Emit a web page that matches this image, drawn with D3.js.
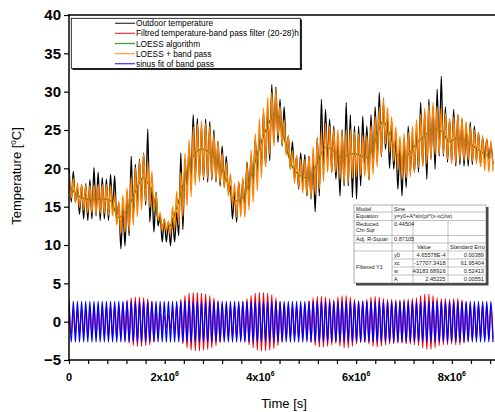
<!DOCTYPE html>
<html>
<head>
<meta charset="utf-8">
<script src="https://cdn.jsdelivr.net/npm/d3@7"></script>
<style>
body { margin: 0; background: #fff; }
svg { display: block; font-family: "Liberation Sans", Arial, sans-serif; }
</style>
</head>
<body>
<div id="chart"></div>
<script>
// one value pair per day: daily maximum and daily minimum
var outdoorMax = [
  19.9, 19.6, 17.5, 17.9, 18.0, 18.5, 20.1, 19.5, 18.8, 18.6,
  19.2, 19.0, 15.5, 15.0, 16.9, 21.6, 20.5, 21.2, 22.0, 25.1,
  17.5, 16.9, 14.0, 13.4, 13.0, 13.5, 14.3, 22.0, 21.0, 22.5,
  27.0, 26.5, 25.5, 26.4, 26.1, 25.0, 23.5, 22.9, 21.6, 17.7,
  16.9, 18.2, 18.5, 20.8, 21.5, 23.8, 24.5, 27.3, 27.8, 30.9,
  30.6, 29.0, 28.0, 24.2, 23.5, 21.6, 22.0, 21.8, 21.6, 21.2,
  24.0, 29.0, 27.7, 26.4, 25.5, 23.4, 25.0, 28.6, 27.0, 25.5,
  25.5, 26.8, 25.5, 27.0, 28.0, 29.9, 28.6, 26.4, 26.0, 23.8,
  23.0, 23.8, 25.5, 24.0, 25.0, 28.6, 27.3, 29.0, 28.0, 30.3,
  32.0, 28.0, 26.4, 27.7, 27.0, 26.4, 25.5, 26.0, 25.5, 24.7,
  24.0, 23.8, 23.0
];
var outdoorMin = [
  15.6, 15.6, 14.0, 13.4, 13.2, 13.4, 13.8, 13.2, 13.4, 13.2,
  14.5, 13.0, 9.5, 9.9, 11.2, 13.5, 15.1, 15.5, 15.2, 13.0,
  11.7, 12.5, 10.4, 10.4, 9.9, 10.4, 11.2, 12.0, 17.7, 18.6,
  18.6, 18.6, 18.5, 18.2, 18.5, 18.2, 17.7, 17.7, 16.9, 13.4,
  13.0, 14.7, 15.0, 16.9, 18.0, 19.5, 20.0, 20.3, 21.0, 23.4,
  23.4, 22.9, 22.0, 19.9, 18.6, 17.3, 17.7, 16.4, 16.0, 14.3,
  16.4, 20.5, 20.8, 19.5, 18.6, 16.4, 17.7, 17.7, 16.2, 16.0,
  17.7, 19.9, 18.5, 20.0, 20.8, 21.5, 22.5, 20.0, 19.9, 17.3,
  16.4, 17.5, 19.5, 19.5, 19.5, 20.3, 18.6, 21.2, 19.9, 21.6,
  21.6, 20.8, 20.8, 20.3, 20.5, 20.3, 20.3, 20.5, 21.0, 20.5,
  21.2, 21.2, 20.5
];
var bandMax = [
  1.6, 1.6, 1.6, 1.7, 1.8, 1.8, 1.9, 1.9, 1.9, 2.0,
  2.0, 2.1, 2.1, 2.4, 2.8, 3.1, 3.2, 3.2, 3.1, 3.0,
  2.6, 1.8, 1.2, 0.8, 0.9, 1.5, 2.2, 2.9, 3.4, 3.7,
  3.8, 3.8, 3.7, 3.6, 3.4, 3.1, 2.7, 2.3, 2.2, 2.1,
  2.2, 2.3, 2.6, 3.0, 3.4, 3.7, 3.8, 3.8, 3.7, 3.5,
  3.1, 2.6, 2.3, 2.2, 2.1, 2.1, 2.2, 2.3, 2.7, 3.1,
  3.3, 3.3, 3.2, 3.0, 2.8, 3.2, 3.4, 3.4, 3.2, 2.9,
  2.7, 2.7, 2.9, 3.2, 3.3, 3.2, 3.0, 2.9, 2.9, 2.8,
  2.8, 2.9, 2.9, 3.0, 3.1, 3.4, 3.6, 3.6, 3.4, 3.1,
  3.0, 3.0, 2.9, 3.0, 3.0, 2.8, 2.5, 2.3, 2.2, 2.2,
  2.3, 2.2, 2.2
];
var bandMin = [
  -1.6, -1.6, -1.6, -1.7, -1.8, -1.8, -1.9, -1.9, -1.9, -2.0,
  -2.0, -2.1, -2.1, -2.4, -2.8, -3.1, -3.2, -3.2, -3.1, -3.0,
  -2.6, -1.8, -1.2, -0.8, -0.9, -1.5, -2.2, -2.9, -3.4, -3.7,
  -3.8, -3.8, -3.7, -3.6, -3.4, -3.1, -2.7, -2.3, -2.2, -2.1,
  -2.2, -2.3, -2.6, -3.0, -3.4, -3.7, -3.8, -3.8, -3.7, -3.5,
  -3.1, -2.6, -2.3, -2.2, -2.1, -2.1, -2.2, -2.3, -2.7, -3.1,
  -3.3, -3.3, -3.2, -3.0, -2.8, -3.2, -3.4, -3.4, -3.2, -2.9,
  -2.7, -2.7, -2.9, -3.2, -3.3, -3.2, -3.0, -2.9, -2.9, -2.8,
  -2.8, -2.9, -2.9, -3.0, -3.1, -3.4, -3.6, -3.6, -3.4, -3.1,
  -3.0, -3.0, -2.9, -3.0, -3.0, -2.8, -2.5, -2.3, -2.2, -2.2,
  -2.3, -2.2, -2.2
];
var loessBandMax = [
  19.3, 18.7, 18.1, 17.9, 17.8, 17.8, 17.8, 17.9, 17.9, 17.9,
  17.8, 16.8, 15.7, 16.5, 17.4, 18.8, 20.1, 21.0, 21.9, 20.9,
  19.6, 16.8, 14.2, 13.4, 13.1, 15.0, 17.0, 19.5, 21.9, 23.7,
  25.4, 25.8, 26.2, 25.9, 25.5, 24.5, 23.5, 22.0, 20.8, 19.3,
  18.0, 18.3, 18.8, 20.6, 22.4, 24.5, 26.4, 27.8, 29.2, 29.9,
  30.4, 28.2, 26.3, 24.3, 22.3, 21.7, 21.2, 21.2, 21.5, 22.8,
  23.9, 24.9, 25.9, 25.5, 25.1, 25.0, 24.8, 25.0, 25.1, 24.7,
  24.5, 24.3, 24.3, 25.6, 26.8, 28.0, 29.2, 27.9, 26.7, 25.4,
  24.2, 24.5, 24.7, 25.5, 26.3, 27.1, 27.8, 28.3, 28.6, 28.1,
  27.9, 27.2, 26.4, 26.7, 27.0, 26.6, 26.1, 25.5, 25.0, 24.6,
  24.3, 23.9, 23.6
];
var loessBandMin = [
  16.1, 15.5, 14.9, 14.5, 14.2, 14.2, 14.0, 14.1, 14.1, 13.9,
  13.8, 12.6, 11.5, 11.7, 11.8, 12.6, 13.7, 14.6, 15.7, 14.9,
  14.4, 13.2, 11.8, 11.8, 11.3, 12.0, 12.6, 13.7, 15.1, 16.3,
  17.8, 18.2, 18.8, 18.7, 18.7, 18.3, 18.1, 17.4, 16.4, 15.1,
  13.6, 13.7, 13.6, 14.6, 15.6, 17.1, 18.8, 20.2, 21.8, 22.9,
  24.2, 23.0, 21.7, 19.9, 18.1, 17.5, 16.8, 16.6, 16.1, 16.6,
  17.3, 18.3, 19.5, 19.5, 19.5, 18.6, 18.0, 18.2, 18.7, 18.9,
  19.1, 18.9, 18.5, 19.2, 20.2, 21.6, 23.2, 22.1, 20.9, 19.8,
  18.6, 18.7, 18.9, 19.5, 20.1, 20.3, 20.6, 21.1, 21.8, 21.9,
  21.9, 21.2, 20.6, 20.7, 21.0, 21.0, 21.1, 20.9, 20.6, 20.2,
  19.7, 19.5, 19.6
];
var sineMax = [
  2.65, 2.65, 2.65, 2.65, 2.65, 2.65, 2.65, 2.65, 2.65, 2.65,
  2.65, 2.65, 2.65, 2.65, 2.65, 2.65, 2.65, 2.65, 2.65, 2.65,
  2.65, 2.65, 2.65, 2.65, 2.65, 2.65, 2.65, 2.65, 2.65, 2.65,
  2.65, 2.65, 2.65, 2.65, 2.65, 2.65, 2.65, 2.65, 2.65, 2.65,
  2.65, 2.65, 2.65, 2.65, 2.65, 2.65, 2.65, 2.65, 2.65, 2.65,
  2.65, 2.65, 2.65, 2.65, 2.65, 2.65, 2.65, 2.65, 2.65, 2.65,
  2.65, 2.65, 2.65, 2.65, 2.65, 2.65, 2.65, 2.65, 2.65, 2.65,
  2.65, 2.65, 2.65, 2.65, 2.65, 2.65, 2.65, 2.65, 2.65, 2.65,
  2.65, 2.65, 2.65, 2.65, 2.65, 2.65, 2.65, 2.65, 2.65, 2.65,
  2.65, 2.65, 2.65, 2.65, 2.65, 2.65, 2.65, 2.65, 2.65, 2.65,
  2.65, 2.65, 2.65
];
var sineMin = [
  -2.65, -2.65, -2.65, -2.65, -2.65, -2.65, -2.65, -2.65, -2.65, -2.65,
  -2.65, -2.65, -2.65, -2.65, -2.65, -2.65, -2.65, -2.65, -2.65, -2.65,
  -2.65, -2.65, -2.65, -2.65, -2.65, -2.65, -2.65, -2.65, -2.65, -2.65,
  -2.65, -2.65, -2.65, -2.65, -2.65, -2.65, -2.65, -2.65, -2.65, -2.65,
  -2.65, -2.65, -2.65, -2.65, -2.65, -2.65, -2.65, -2.65, -2.65, -2.65,
  -2.65, -2.65, -2.65, -2.65, -2.65, -2.65, -2.65, -2.65, -2.65, -2.65,
  -2.65, -2.65, -2.65, -2.65, -2.65, -2.65, -2.65, -2.65, -2.65, -2.65,
  -2.65, -2.65, -2.65, -2.65, -2.65, -2.65, -2.65, -2.65, -2.65, -2.65,
  -2.65, -2.65, -2.65, -2.65, -2.65, -2.65, -2.65, -2.65, -2.65, -2.65,
  -2.65, -2.65, -2.65, -2.65, -2.65, -2.65, -2.65, -2.65, -2.65, -2.65,
  -2.65, -2.65, -2.65
];
// LOESS curve, one value every second day
var loess = [
  17.7, 16.5, 16.0, 15.9, 16.0, 15.8, 13.6, 14.6, 16.9, 18.8,
  17.0, 13.0, 12.2, 14.8, 18.5, 21.6, 22.5, 22.1, 20.8, 18.6,
  15.8, 16.2, 19.0, 22.6, 25.5, 27.3, 24.0, 20.2, 19.0, 18.8,
  20.6, 22.7, 22.3, 21.4, 21.9, 21.8, 21.4, 23.5, 26.2, 23.8,
  21.4, 21.8, 23.2, 24.2, 25.2, 24.9, 23.5, 24.0, 23.6, 22.8,
  22.0, 21.5
];

var legendLabels = [
  "Outdoor temperature",
  "Filtred temperature-band pass filter (20-28)h",
  "LOESS algorithm",
  "LOESS + band pass",
  "sinus fit of band pass"
];
var yTicks = [-5, 0, 5, 10, 15, 20, 25, 30, 35, 40];
var xTicks = [0, 2e6, 4e6, 6e6, 8e6];

var fitModel = "Sine";
var fitEquation = "y=y0+A*sin(pi*(x-xc)/w)";
var fitChiSqr = "0.44504";
var fitAdjR = "0.87105";
var fitParams = ["y0", "xc", "w", "A"];
var fitValues = ["4.65578E-4", "-17707.3418", "43183.68916", "2.45225"];
var fitErrors = ["0.00389", "61.95404", "0.52413", "0.00551"];

// sampling: seconds per day, time of daily max and min within the day
var dayLength = 86400, maxOffset = 3885, minOffset = 47070;
var loessStep = 2 * 86400;

var colors = ["#000000", "#ff0000", "#008000", "#ff8000", "#0000ff"];

var svg = d3.select("#chart").append("svg")
    .attr("width", 495)
    .attr("height", 412);

var x = d3.scaleLinear().domain([0, 8.85e6]).range([69, 492.5]);
var y = d3.scaleLinear().domain([-5, 40]).range([360, 15]);

svg.append("clipPath").attr("id", "plotclip")
  .append("rect").attr("x", 69).attr("y", 15).attr("width", 426).attr("height", 345);

function zigzag(maxs, mins) {
  var pts = [];
  maxs.forEach(function(v, d) {
    pts.push([d * dayLength + maxOffset, v]);
    pts.push([d * dayLength + minOffset, mins[d]]);
  });
  return pts;
}

var line = d3.line()
  .x(function(d) { return x(d[0]); })
  .y(function(d) { return y(d[1]); })
  .curve(d3.curveMonotoneX);

var plot = svg.append("g").attr("clip-path", "url(#plotclip)");

plot.append("path")
  .datum(zigzag(outdoorMax, outdoorMin))
  .attr("fill", "none").attr("stroke", colors[0]).attr("stroke-width", 1.3)
  .attr("d", line);

plot.append("path")
  .datum(zigzag(bandMax, bandMin))
  .attr("fill", "none").attr("stroke", colors[1]).attr("stroke-width", 1.3)
  .attr("d", line);

plot.append("path")
  .datum(loess.map(function(v, i) { return [i * loessStep, v]; }))
  .attr("fill", "none").attr("stroke", colors[2]).attr("stroke-width", 1.3)
  .attr("d", line.curve(d3.curveCatmullRom));
line.curve(d3.curveMonotoneX);

plot.append("path")
  .datum(zigzag(loessBandMax, loessBandMin))
  .attr("fill", "none").attr("stroke", colors[3]).attr("stroke-width", 1.4)
  .attr("d", line);

plot.append("path")
  .datum(zigzag(sineMax, sineMin))
  .attr("fill", "none").attr("stroke", colors[4]).attr("stroke-width", 1.3)
  .attr("d", line);

// axes
var gy = svg.append("g").attr("transform", "translate(69,0)");
gy.call(d3.axisLeft(y).tickValues(d3.range(-2.5, 40, 5)).tickSize(4).tickFormat(""));
gy.call(d3.axisLeft(y).tickValues(yTicks).tickSize(5).tickPadding(3));
gy.selectAll(".domain").remove();
gy.selectAll("line").attr("stroke-width", 1.2);
gy.selectAll("text")
  .attr("font-size", 15).attr("font-weight", "bold")
  .attr("font-family", "Liberation Sans, Arial, sans-serif");

var gx = svg.append("g").attr("transform", "translate(0,360)");
gx.call(d3.axisBottom(x).tickValues(d3.range(0, 8.85e6, 4e5)).tickSize(4).tickFormat(""));
gx.selectAll(".domain").remove();
gx.selectAll("line").attr("stroke-width", 1.2);

xTicks.forEach(function(v) {
  var t = svg.append("text")
    .attr("x", x(v)).attr("y", 381)
    .attr("text-anchor", "middle")
    .attr("font-size", 11).attr("font-weight", "bold");
  if (v === 0) {
    t.text("0");
  } else {
    t.append("tspan").text((v / 1e6) + "x10");
    t.append("tspan").attr("dy", -5).attr("font-size", 7).text("6");
  }
});

svg.append("line").attr("x1", 69).attr("x2", 69).attr("y1", 14.3).attr("y2", 360.7)
  .attr("stroke", "#000").attr("stroke-width", 1.5);
svg.append("line").attr("x1", 68.3).attr("x2", 495).attr("y1", 360).attr("y2", 360)
  .attr("stroke", "#000").attr("stroke-width", 1.5);
svg.append("line").attr("x1", 68.3).attr("x2", 495).attr("y1", 15).attr("y2", 15)
  .attr("stroke", "#000").attr("stroke-width", 1.5);

// axis titles
var yt = svg.append("text")
  .attr("transform", "translate(21,176) rotate(-90)")
  .attr("text-anchor", "middle").attr("font-size", 13);
yt.append("tspan").text("Temperature [");
yt.append("tspan").attr("dy", -5).attr("font-size", 8).text("0");
yt.append("tspan").attr("dy", 5).text("C]");

svg.append("text")
  .attr("x", 284).attr("y", 408)
  .attr("text-anchor", "middle").attr("font-size", 13)
  .text("Time [s]");

// legend
var lg = svg.append("g");
lg.append("clipPath").attr("id", "legclip")
  .append("rect").attr("x", 71).attr("y", 18).attr("width", 229.5).attr("height", 51);
lg.append("rect").attr("x", 72.5).attr("y", 19.5).attr("width", 229.5).attr("height", 50.5)
  .attr("fill", "#222");
lg.append("rect").attr("x", 71.3).attr("y", 18.3).attr("width", 229).attr("height", 50.2)
  .attr("fill", "#fff").attr("stroke", "#000").attr("stroke-width", 0.8);
legendLabels.forEach(function(label, i) {
  var cy = 23.3 + i * 10.1;
  lg.append("line").attr("x1", 115).attr("x2", 135).attr("y1", cy).attr("y2", cy)
    .attr("stroke", colors[i]).attr("stroke-width", 1.3).attr("opacity", 0.75);
  lg.append("text").attr("x", 136).attr("y", cy + 3)
    .attr("font-size", 8.3).attr("clip-path", "url(#legclip)")
    .text(label);
});

// fit result table
var tb = svg.append("g").attr("font-size", 5.6).attr("fill", "#222");
var cols = [354, 392, 413, 448, 486];
var rows = [205, 212, 220.5, 235.5, 243, 251, 259, 267, 275, 283];
tb.append("rect").attr("x", 356).attr("y", 207).attr("width", 132.5).attr("height", 78.5)
  .attr("fill", "#444");
tb.append("rect").attr("x", cols[0]).attr("y", rows[0])
  .attr("width", cols[4] - cols[0]).attr("height", rows[9] - rows[0])
  .attr("fill", "#fff").attr("stroke", "#777").attr("stroke-width", 0.6);
function hline(y0, xa, xb) {
  tb.append("line").attr("x1", xa).attr("x2", xb).attr("y1", y0).attr("y2", y0)
    .attr("stroke", "#999").attr("stroke-width", 0.6);
}
function vline(x0, ya, yb) {
  tb.append("line").attr("x1", x0).attr("x2", x0).attr("y1", ya).attr("y2", yb)
    .attr("stroke", "#999").attr("stroke-width", 0.6);
}
[1, 2, 3, 4, 5].forEach(function(i) { hline(rows[i], cols[0], cols[4]); });
[6, 7, 8].forEach(function(i) { hline(rows[i], cols[1], cols[4]); });
vline(cols[1], rows[0], rows[9]);
vline(cols[2], rows[2], rows[9]);
vline(cols[3], rows[2], rows[9]);

function cell(txt, x0, y0, anchor) {
  tb.append("text").attr("x", x0).attr("y", y0)
    .attr("text-anchor", anchor || "start").text(txt);
}
cell("Model", 356, 210.5);
cell(fitModel, 394, 210.5);
cell("Equation", 356, 218.4);
cell(fitEquation, 394, 218.4);
cell("Reduced", 356, 226);
cell("Chi-Sqr", 356, 232);
cell(fitChiSqr, 394, 225.5);
cell("Adj. R-Squar", 356, 241.3);
cell(fitAdjR, 394, 241.3);
cell("Value", 417, 249);
cell("Standard Erro", 450, 249);
cell("Filtered Y1", 356, 269);
fitParams.forEach(function(p, i) {
  var by = rows[5] + 6 + i * 8;
  cell(p, 394, by);
  cell(fitValues[i], 445.5, by, "end");
  cell(fitErrors[i], 484, by, "end");
});
</script>
</body>
</html>
